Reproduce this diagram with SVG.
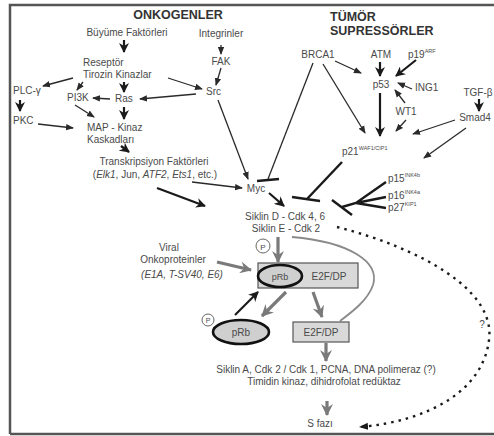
<svg xmlns="http://www.w3.org/2000/svg" width="494" height="436" viewBox="0 0 494 436">
<style>
text{font-family:"Liberation Sans",Arial,sans-serif;font-size:10px;fill:#4a4a4a}
.t{font-weight:bold;font-size:12.5px;fill:#333}
.m{text-anchor:middle}
.sup{font-size:5.5px}
.i{font-style:italic}
.ln{stroke:#2a2a2a;stroke-width:1.3;fill:none}
.th{stroke:#1a1a1a;stroke-width:2.2;fill:none}
.gr{stroke:#7a7a7a;stroke-width:3.2;fill:none}
.inh{stroke:#1a1a1a;stroke-width:2.4;fill:none}
</style>
<defs>
<marker id="a" markerUnits="userSpaceOnUse" markerWidth="8" markerHeight="8" viewBox="0 0 8 8" refX="7" refY="4" orient="auto"><path d="M0,0.8 L8,4 L0,7.2 Z" fill="#2a2a2a"/></marker>
<marker id="ab" markerUnits="userSpaceOnUse" markerWidth="10" markerHeight="10" viewBox="0 0 10 10" refX="9" refY="5" orient="auto"><path d="M0,0 L10,5 L0,10 L3,5 Z" fill="#1a1a1a"/></marker>
<marker id="ag" markerUnits="userSpaceOnUse" markerWidth="12" markerHeight="12" viewBox="0 0 12 12" refX="11" refY="6" orient="auto"><path d="M0,0 L12,6 L0,12 L4,6 Z" fill="#7a7a7a"/></marker>
<marker id="ad" markerUnits="userSpaceOnUse" markerWidth="9" markerHeight="8" viewBox="0 0 9 8" refX="8" refY="4" orient="auto"><path d="M0,0.5 L9,4 L0,7.5 Z" fill="#1a1a1a"/></marker>
</defs>
<rect width="494" height="436" fill="#fff"/>
<path d="M10,434 L10,5 L494,5" fill="none" stroke="#555" stroke-width="2.5"/>
<path d="M10,434 L494,434" fill="none" stroke="#555" stroke-width="2.5"/>

<g id="connectors">
<line class="th" x1="124" y1="40" x2="124" y2="52" marker-end="url(#ab)"/>
<line class="ln" x1="221" y1="45" x2="221" y2="54" marker-end="url(#a)"/>
<line class="th" x1="124" y1="82" x2="124" y2="92" marker-end="url(#ab)"/>
<line class="ln" x1="73" y1="78" x2="43" y2="86" marker-end="url(#a)"/>
<line class="ln" x1="83" y1="82" x2="77" y2="90" marker-end="url(#a)"/>
<line class="ln" x1="168" y1="78" x2="202" y2="89" marker-end="url(#a)"/>
<line class="ln" x1="221" y1="68" x2="216" y2="85" marker-end="url(#a)"/>
<line class="ln" x1="196" y1="94" x2="140" y2="99" marker-end="url(#a)"/>
<line class="ln" x1="110" y1="99" x2="93" y2="98" marker-end="url(#a)"/>
<line class="th" x1="20" y1="100" x2="20" y2="111" marker-end="url(#ab)"/>
<line class="ln" x1="38" y1="124" x2="73" y2="128" marker-end="url(#a)"/>
<line class="ln" x1="75" y1="105" x2="94" y2="117" marker-end="url(#a)"/>
<line class="th" x1="124" y1="107" x2="124" y2="119" marker-end="url(#ab)"/>
<line class="th" x1="121" y1="146" x2="129" y2="152" marker-end="url(#ab)"/>
<line class="ln" x1="192" y1="182" x2="242" y2="188" marker-end="url(#a)"/>
<line class="th" x1="157" y1="188" x2="205" y2="206" marker-end="url(#ab)"/>
<line class="ln" x1="218" y1="100" x2="248" y2="179" marker-end="url(#a)"/>
<line class="ln" x1="313" y1="63" x2="268" y2="179"/>
<line class="inh" x1="257" y1="181" x2="279" y2="179"/>
<line class="th" x1="269" y1="193" x2="284" y2="206" marker-end="url(#ab)"/>
<line class="ln" x1="335" y1="61" x2="361" y2="73" marker-end="url(#a)"/>
<line class="th" x1="380" y1="62" x2="380" y2="76" marker-end="url(#ab)"/>
<line class="th" x1="416" y1="60" x2="396" y2="76" marker-end="url(#ab)"/>
<line class="ln" x1="412" y1="89" x2="398" y2="83" marker-end="url(#a)"/>
<line class="ln" x1="405" y1="103" x2="395" y2="90" marker-end="url(#a)"/>
<line class="th" x1="380" y1="93" x2="380" y2="136" marker-end="url(#ab)"/>
<line class="ln" x1="323" y1="64" x2="365" y2="133" marker-end="url(#a)"/>
<line class="ln" x1="406" y1="120" x2="396" y2="131" marker-end="url(#a)"/>
<line class="ln" x1="455" y1="120" x2="413" y2="134" marker-end="url(#a)"/>
<line class="th" x1="479" y1="99" x2="479" y2="111" marker-end="url(#ab)"/>
<line class="ln" x1="466" y1="128" x2="424" y2="158" marker-end="url(#a)"/>
<line class="inh" x1="342" y1="162" x2="307" y2="199"/>
<line class="inh" x1="292" y1="197" x2="320" y2="201"/>
<line class="inh" x1="332" y1="200" x2="352" y2="215"/>
<path class="inh" d="M342,207 L356,203 L386,182 M356,203 L386,197 M356,203 L386,208"/>
<line class="gr" x1="278" y1="237" x2="278" y2="262" marker-end="url(#ag)"/>
<line class="gr" x1="217" y1="262" x2="251" y2="270" marker-end="url(#ag)"/>
<path d="M292,237 C350,242 380,262 373,285 C368,300 352,312 340,321" fill="none" stroke="#8a8a8a" stroke-width="1.8"/>
<line class="th" x1="235" y1="315" x2="258" y2="292" marker-end="url(#ab)"/>
<line class="gr" x1="286" y1="292" x2="262" y2="316" marker-end="url(#ag)"/>
<line class="gr" x1="313" y1="292" x2="322" y2="317" marker-end="url(#ag)"/>
<line class="gr" x1="326" y1="343" x2="326" y2="361" marker-end="url(#ag)"/>
<line class="gr" x1="327" y1="401" x2="327" y2="415" marker-end="url(#ag)"/>
<path d="M337,227 C420,248 496,290 489,340 C483,390 430,421 360,427" fill="none" stroke="#1a1a1a" stroke-width="2.4" stroke-dasharray="2.5 5" marker-end="url(#ad)"/>
</g>

<g id="titles">
<text class="t m" x="178" y="19">ONKOGENLER</text>
<text class="t" x="330" y="21">TÜMÖR</text>
<text class="t" x="330" y="35">SUPRESSÖRLER</text>
</g>
<g id="n-buyume"><text class="m" x="127" y="36">Büyüme Faktörleri</text></g>
<g id="n-integrinler"><text class="m" x="221" y="37">Integrinler</text></g>
<g id="n-fak"><text class="m" x="221" y="65">FAK</text></g>
<g id="n-reseptor"><text x="83" y="66">Reseptör</text><text x="83" y="78">Tirozin Kinazlar</text></g>
<g id="n-plc"><text x="13" y="94">PLC-γ</text></g>
<g id="n-pi3k"><text x="67" y="101">PI3K</text></g>
<g id="n-ras"><text x="115" y="102">Ras</text></g>
<g id="n-src"><text x="206" y="95">Src</text></g>
<g id="n-pkc"><text x="13" y="124">PKC</text></g>
<g id="n-map"><text x="87" y="131">MAP - Kinaz</text><text x="87" y="143">Kaskadları</text></g>
<g id="n-transkripsiyon"><text class="m" x="154" y="165">Transkripsiyon Faktörleri</text><text class="m" x="155" y="178">(<tspan class="i">Elk1</tspan>, Jun, <tspan class="i">ATF2</tspan>, <tspan class="i">Ets1</tspan>, etc.)</text></g>
<g id="n-myc"><text class="m" x="256" y="192">Myc</text></g>
<g id="n-siklin"><text class="m" x="285" y="220">Siklin D - Cdk 4, 6</text><text class="m" x="286" y="232">Siklin E - Cdk 2</text></g>
<g id="n-brca1"><text class="m" x="318" y="58">BRCA1</text></g>
<g id="n-atm"><text class="m" x="381" y="58">ATM</text></g>
<g id="n-p19"><text x="408" y="58">p19<tspan class="sup" dy="-5">ARF</tspan></text></g>
<g id="n-p53"><text class="m" x="381" y="88">p53</text></g>
<g id="n-ing1"><text x="415" y="91">ING1</text></g>
<g id="n-wt1"><text class="m" x="406" y="115">WT1</text></g>
<g id="n-tgf"><text class="m" x="478" y="96">TGF-β</text></g>
<g id="n-smad4"><text class="m" x="475" y="121">Smad4</text></g>
<g id="n-p21"><text x="342" y="155">p21<tspan class="sup" dy="-5">WAF1/CIP1</tspan></text></g>
<g id="n-p15"><text x="388" y="182">p15<tspan class="sup" dy="-5">INK4b</tspan></text></g>
<g id="n-p16"><text x="388" y="199">p16<tspan class="sup" dy="-5">INK4a</tspan></text></g>
<g id="n-p27"><text x="388" y="211">p27<tspan class="sup" dy="-5">KIP1</tspan></text></g>
<g id="n-viral"><text class="m" x="169" y="251">Viral</text><text class="m" x="173" y="263">Onkoproteinler</text><text class="m i" x="182" y="278">(E1A, T-SV40, E6)</text></g>
<g id="n-p-top"><circle cx="263" cy="246" r="7" fill="#fff" stroke="#666" stroke-width="1"/><text class="m" x="263" y="249.5" style="font-size:8px">P</text></g>
<g id="n-complex">
<rect x="258" y="263" width="100" height="25" fill="#d9d9d9" stroke="#555" stroke-width="1.2"/>
<ellipse cx="280" cy="276" rx="22" ry="11" fill="#cfcfcf" stroke="#111" stroke-width="2.6"/>
<text class="m" x="280" y="279.5" style="font-size:9px">pRb</text>
<text class="m" x="329" y="279.5">E2F/DP</text>
</g>
<g id="n-p-low"><circle cx="208" cy="320" r="6" fill="#fff" stroke="#666" stroke-width="1"/><text class="m" x="208" y="323" style="font-size:7px">P</text></g>
<g id="n-prb"><ellipse cx="241" cy="332" rx="28" ry="12" fill="#cfcfcf" stroke="#111" stroke-width="2.6"/><text class="m" x="241" y="336">pRb</text></g>
<g id="n-e2f"><rect x="293" y="322" width="56" height="20" fill="#d9d9d9" stroke="#555" stroke-width="1.2"/><text class="m" x="321" y="336">E2F/DP</text></g>
<g id="n-genes"><text class="m" x="326" y="373">Siklin A, Cdk 2 / Cdk 1, PCNA, DNA polimeraz (?)</text><text class="m" x="324" y="385">Timidin kinaz, dihidrofolat redüktaz</text></g>
<g id="n-sfazi"><text class="m" x="320" y="427">S fazı</text></g>
<g id="n-q"><text class="m" x="482" y="328">?</text></g>
</svg>
